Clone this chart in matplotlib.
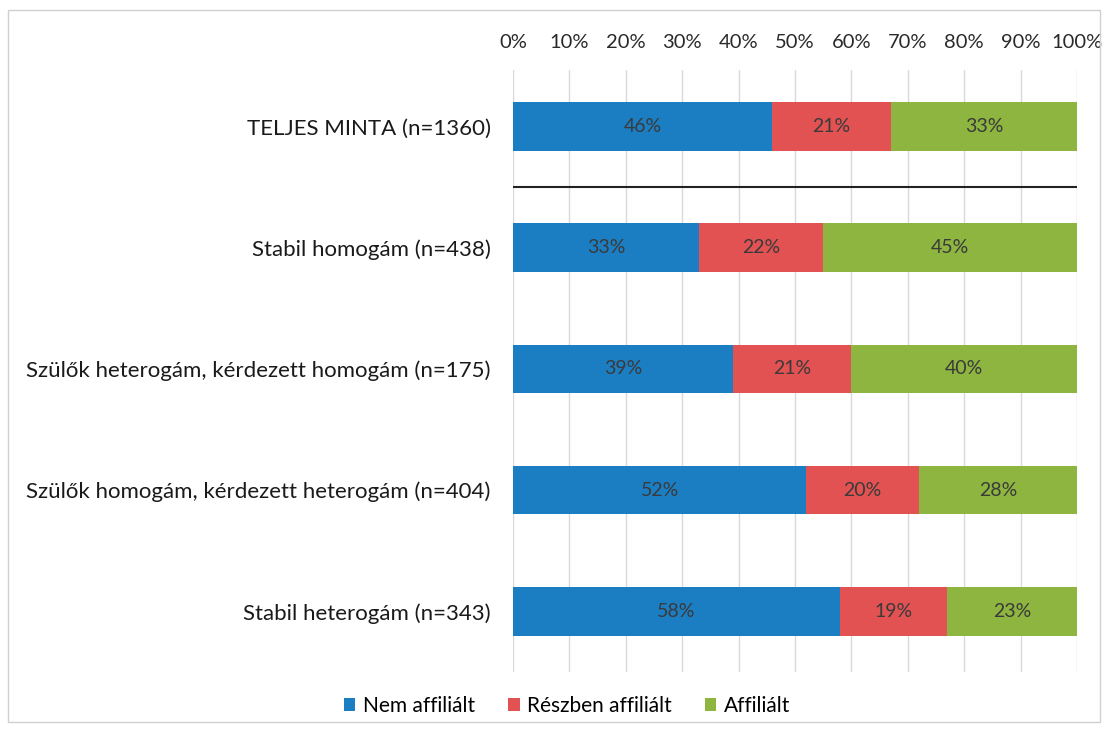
import numpy as np
import matplotlib
matplotlib.use("Agg")
import matplotlib.pyplot as plt
from matplotlib.patches import Rectangle

plt.rcParams['font.family'] = ['Lato', 'DejaVu Sans']

# groups, top to bottom
groups = ["TELJES MINTA (n=1360)",
          "Stabil homogám (n=438)",
          "Szülők heterogám, kérdezett homogám (n=175)",
          "Szülők homogám, kérdezett heterogám (n=404)",
          "Stabil heterogám (n=343)"]
nem_affilialt = [46, 33, 39, 52, 58]
reszben_affilialt = [21, 22, 21, 20, 19]
affilialt = [33, 45, 40, 28, 23]
series_names = ["Nem affiliált", "Részben affiliált", "Affiliált"]
colors = ["#1b7ec2", "#e25253", "#8db540"]
xticks = np.arange(0, 101, 10)

fig = plt.figure(figsize=(11.07, 7.32), dpi=100)
ax = fig.add_axes([513 / 1107, 1 - 672 / 732, (1077 - 513) / 1107, (672 - 70) / 732])

y = np.arange(len(groups))
left = np.zeros(len(groups))
for vals, name, c in zip([nem_affilialt, reszben_affilialt, affilialt], series_names, colors):
    vals = np.array(vals, dtype=float)
    ax.barh(y, vals, left=left, height=0.4, color=c, label=name, zorder=3)
    for yi, l, v in zip(y, left, vals):
        ax.text(l + v / 2, yi, f"{int(v)}%", ha="center", va="center",
                fontsize=14, color="#3a3a3a", zorder=4)
    left += vals

ax.set_xlim(0, 100)
ax.set_ylim(4.5, -0.465)
ax.set_yticks(y)
ax.set_yticklabels(groups, fontsize=16, color="#1a1a1a")
ax.set_xticks(xticks)
ax.set_xticklabels([f"{t}%" for t in xticks], fontsize=14.5, color="#2a2a2a")
ax.xaxis.tick_top()
ax.tick_params(length=0, pad=14, axis="x")
ax.tick_params(length=0, pad=16, axis="y")
ax.grid(axis="x", color="#d9d9d9", linewidth=1, zorder=0)
for s in ax.spines.values():
    s.set_visible(False)

# separator between full sample and subgroups
ax.axhline(0.5, color="#222222", linewidth=1.5, zorder=5)

ax.legend(loc="center", bbox_to_anchor=(567 / 1107, 1 - 706 / 732),
          bbox_transform=fig.transFigure, ncol=3, frameon=False,
          fontsize=15, handlelength=0.55, handleheight=0.55,
          handletextpad=0.35, columnspacing=1.6)

fig.patches.append(Rectangle((8 / 1107, 1 - 722 / 732), 1092 / 1107, 712 / 732,
                             transform=fig.transFigure, fill=False,
                             edgecolor="#d0d0d0", linewidth=1))

fig.savefig("out.png", dpi=100)
